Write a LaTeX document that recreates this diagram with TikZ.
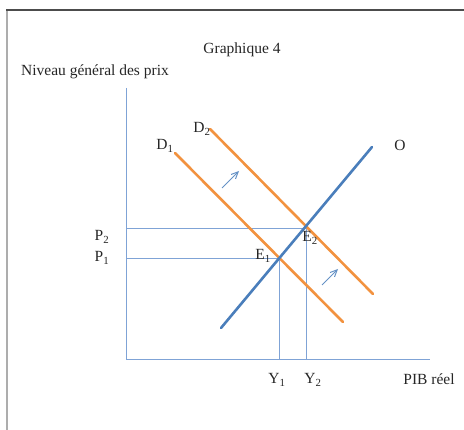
\documentclass[tikz,border=0pt]{standalone}
\usepackage{fontspec}
\setmainfont{Liberation Serif}
\usetikzlibrary{arrows.meta,positioning}
\definecolor{courbeorange}{HTML}{F2923F}
\definecolor{courbebleu}{HTML}{4A7EBB}
\definecolor{guidebleu}{HTML}{7FA3D6}
\definecolor{cadregris}{HTML}{8A8A8A}
\tikzset{
  courbe/.style={line width=2.6pt,line cap=round},
  guide/.style={guidebleu,line width=0.8pt},
  lbl/.style={font=\fontsize{15.5}{18}\selectfont,inner sep=0pt,text=black!85},
  depl/.style={-{Straight Barb[length=2.4mm,width=2.2mm]},courbebleu!85,line width=1pt}
}

\begin{document}
\begin{tikzpicture}[x=1pt,y=-1pt]
\useasboundingbox (0,0) rectangle (464,430);
% cadre
\draw[cadregris!70,line width=1.6pt] (7,430) -- (7,10);
\draw[black!70,line width=1.6pt] (6.2,10) -- (464,10);
% titres
\node[lbl] (titre) at (242,50) {Graphique 4};
\node[lbl] (prix) at (95,72) {Niveau général des prix};
% axes
\coordinate (haut) at (126,88);
\coordinate (origine) at (126,359);
\coordinate (droite) at (430,359);
\draw[guide] (haut) -- (origine) -- (droite);
% points d'equilibre
\coordinate (E1) at (279,258);
\coordinate (E2) at (306,228);
\coordinate (P1) at (126,258);
\coordinate (P2) at (126,228);
\coordinate (Y1) at (279,359);
\coordinate (Y2) at (306,359);
\draw[guide] (P2) -- (E2) -- (Y2);
\draw[guide] (P1) -- (E1) -- (Y1);
% courbes
\coordinate (d1a) at (175,153);
\coordinate (d1b) at (343,322);
\coordinate (d2a) at (210,129);
\coordinate (d2b) at (373,294);
\coordinate (oa) at (221,328);
\coordinate (ob) at (372,147);
\draw[courbe,courbeorange] (d1a) -- (d1b);
\draw[courbe,courbeorange] (d2a) -- (d2b);
\draw[courbe,courbebleu] (oa) -- (ob);
% deplacement
\coordinate (f1a) at (222,188);
\coordinate (f1b) at (239,171);
\coordinate (f2a) at (322,285);
\coordinate (f2b) at (338,269);
\draw[depl] (f1a) -- (f1b);
\draw[depl] (f2a) -- (f2b);
% etiquettes
\node[lbl] (lD1) at (165,146) {D\textsubscript{1}};
\node[lbl] (lD2) at (202,129) {D\textsubscript{2}};
\node[lbl] (lO) at (400,145) {O};
\node[lbl] (lE1) at (263,256) {E\textsubscript{1}};
\node[lbl] (lE2) at (310,238) {E\textsubscript{2}};
\node[lbl] (lP2) at (102,237) {P\textsubscript{2}};
\node[lbl] (lP1) at (102,258) {P\textsubscript{1}};
\node[lbl] (lY1) at (277,380) {Y\textsubscript{1}};
\node[lbl] (lY2) at (313,380) {Y\textsubscript{2}};
\node[lbl] (lPIB) at (429,379) {PIB réel};
\end{tikzpicture}
\end{document}
